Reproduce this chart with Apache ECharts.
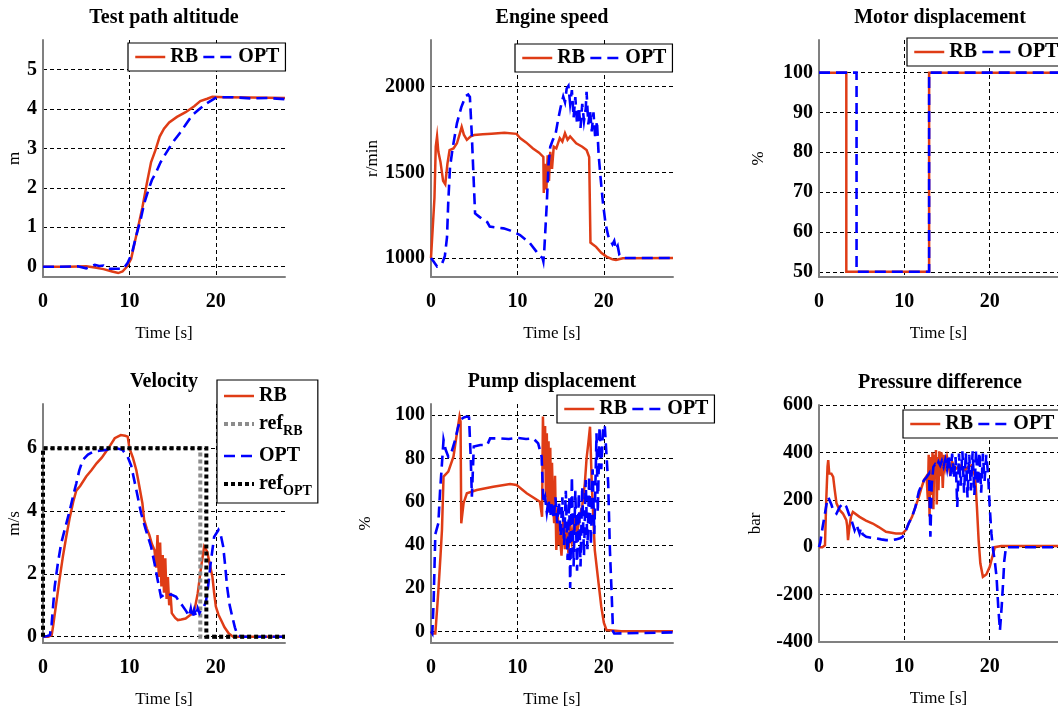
<!DOCTYPE html>
<html>
<head>
<meta charset="utf-8">
<script src="https://cdn.jsdelivr.net/npm/echarts@6/dist/echarts.min.js"></script>
<style>
  html, body { margin: 0; padding: 0; background: #fff; }
  #chart { width: 1058px; height: 711px; }
</style>
</head>
<body>
<div id="chart"></div>
<script>
// ---- tick values ----
const timeTicks = [0, 10, 20];
const altitudeTicks = [0, 1, 2, 3, 4, 5];
const engineTicks = [1000, 1500, 2000];
const motorTicks = [50, 60, 70, 80, 90, 100];
const velocityTicks = [0, 2, 4, 6];
const pumpTicks = [0, 20, 40, 60, 80, 100];
const pressureTicks = [-400, -200, 0, 200, 400, 600];

// ---- measured traces: [time s, value] ----
const altitudeRB = [[0,0],[3,0],[5,0.01],[6,-0.02],[7,-0.06],[8,-0.12],[8.7,-0.16],[9.2,-0.12],[9.7,0],[10.2,0.2],[10.6,0.6],[11,1.0],[11.5,1.5],[12,2.1],[12.5,2.65],[13,2.95],[13.5,3.3],[14,3.5],[14.6,3.66],[15.5,3.8],[16.5,3.92],[17.5,4.07],[18.2,4.2],[19,4.26],[19.6,4.31],[21,4.3],[24,4.29],[28,4.28]];
const altitudeOPT = [[0,0],[2,0],[4,0.01],[5,-0.04],[5.5,0],[6,0.05],[6.5,0.02],[7,0.03],[7.5,-0.05],[8.5,-0.05],[9.3,-0.05],[9.8,0.1],[10.3,0.35],[10.8,0.8],[11.3,1.2],[11.7,1.6],[12.2,1.95],[12.6,2.2],[13.1,2.4],[13.6,2.65],[14.2,2.87],[15,3.15],[15.8,3.38],[16.5,3.6],[17.3,3.85],[18.1,4.0],[18.9,4.14],[19.5,4.22],[20.1,4.3],[22,4.3],[24,4.27],[26,4.28],[28,4.25]];

const engineRB = [[0,1000],[0.2,1000],[0.4,1350],[0.55,1650],[0.7,1710],[0.85,1620],[1.1,1560],[1.4,1450],[1.65,1430],[1.9,1550],[2.15,1630],[2.6,1640],[3,1670],[3.3,1720],[3.55,1765],[3.8,1720],[4.15,1690],[4.6,1710],[5,1718],[6,1722],[7,1725],[8.5,1731],[9.9,1725],[10.3,1700],[11,1675],[11.8,1640],[12.5,1615],[13,1590],[13.05,1380],[13.2,1550],[13.35,1400],[13.5,1600],[13.65,1450],[13.8,1620],[14,1520],[14.2,1650],[14.5,1640],[14.9,1700],[15.2,1680],[15.5,1728],[15.8,1690],[16.1,1710],[16.8,1670],[17.5,1650],[18,1630],[18.3,1590],[18.45,1090],[18.7,1080],[19.1,1065],[19.7,1030],[20.3,1008],[21,992],[21.4,988],[22.2,998],[28,1000]];
const engineOPT = [[0,1000],[0.3,980],[0.7,950],[1.0,955],[1.3,970],[1.6,1010],[1.85,1120],[2.0,1330],[2.2,1530],[2.5,1640],[3.0,1786],[3.5,1880],[4.0,1945],[4.3,1955],[4.5,1940],[4.73,1710],[4.9,1500],[5.1,1260],[5.6,1240],[6.0,1225],[6.5,1210],[6.8,1183],[7.5,1178],[8.4,1173],[9.2,1160],[9.9,1144],[10.3,1134],[11.0,1105],[11.45,1086],[12.2,1037],[12.6,1010],[12.9,1000],[13.0,980],[13.1,1040],[13.4,1320],[13.6,1550],[13.8,1650],[14.1,1690],[14.4,1720],[14.7,1806],[15.0,1880],[15.3,1942],[15.5,1910],[15.7,1990],[15.9,2005],[16.1,1900],[16.3,1980],[16.5,1820],[16.7,1940],[16.9,1780],[17.1,1880],[17.3,1760],[17.5,1900],[17.7,1800],[17.9,1870],[18.0,1970],[18.2,1780],[18.4,1860],[18.6,1740],[18.8,1850],[19.0,1700],[19.2,1800],[19.4,1600],[19.6,1480],[19.9,1319],[20.2,1200],[20.5,1130],[20.7,1124],[21.0,1080],[21.2,1100],[21.4,1050],[21.6,1070],[21.8,1017],[22.3,1000],[28,1000]];

const motorRB = [[0,100],[3.2,100],[3.2,50],[12.9,50],[12.9,100],[28,100]];
const motorOPT = [[0,100],[4.4,100],[4.4,50],[12.9,50],[12.9,100],[28,100]];

const velocityRB = [[0,0],[0.6,0],[1.0,0.05],[1.15,0.3],[1.5,1.0],[1.9,1.8],[2.3,2.55],[2.7,3.2],[3.1,3.8],[3.5,4.3],[3.85,4.65],[4.3,4.8],[5.0,5.1],[5.6,5.3],[6.2,5.52],[6.8,5.7],[7.3,5.9],[7.8,6.1],[8.3,6.32],[9.0,6.42],[9.5,6.4],[9.8,6.37],[10.0,6.0],[10.4,5.7],[10.8,5.3],[11.15,4.78],[11.5,4.25],[11.7,3.72],[12.0,3.45],[12.3,3.24],[12.6,2.95],[12.9,2.76],[13.1,2.2],[13.25,3.24],[13.4,1.9],[13.55,3.0],[13.7,1.6],[13.85,2.6],[14.0,1.4],[14.15,2.5],[14.3,1.2],[14.45,1.9],[14.6,1.0],[14.75,1.4],[14.9,0.75],[15.0,0.8],[15.3,0.6],[15.6,0.53],[16.0,0.55],[16.5,0.58],[17.0,0.68],[17.3,0.74],[17.6,0.95],[17.9,1.38],[18.1,1.8],[18.3,2.23],[18.5,2.6],[18.65,2.87],[19.0,2.71],[19.3,2.3],[19.6,1.91],[19.8,1.4],[20.0,0.96],[20.3,0.7],[20.6,0.53],[21.0,0.3],[21.5,0.1],[22,0],[28,0]];
const velocityOPT = [[0,0],[0.5,0.02],[0.8,0.05],[1.0,0.4],[1.35,1.59],[1.7,2.3],[2.1,2.97],[2.6,3.5],[3.1,4.03],[3.5,4.5],[3.85,4.88],[4.2,5.3],[4.6,5.63],[5.2,5.8],[5.8,5.89],[6.5,5.92],[7.3,5.95],[8.0,6.0],[8.5,6.0],[9.2,5.95],[9.8,5.73],[10.2,5.45],[10.8,4.67],[11.35,3.93],[11.9,3.4],[12.5,2.87],[12.9,2.34],[13.27,1.8],[13.65,1.27],[14.0,1.33],[14.4,1.3],[14.8,1.35],[15.4,1.27],[15.8,1.1],[16.1,1.0],[16.6,0.8],[16.9,0.65],[17.1,0.9],[17.3,0.6],[17.5,0.85],[17.7,0.65],[17.9,0.9],[18.1,0.75],[18.3,0.85],[18.6,0.95],[18.85,1.11],[19.1,1.6],[19.4,2.34],[19.8,3.18],[20.3,3.4],[20.6,3.2],[20.85,2.87],[21.1,2.2],[21.3,1.59],[21.6,1.0],[21.9,0.64],[22.2,0.3],[22.5,0.05],[23,0],[28,0]];
const velocityRefRB = [[0,0],[0,6],[18.2,6],[18.2,0],[28,0]];
const velocityRefOPT = [[0,0],[0,6],[18.9,6],[18.9,0],[28,0]];

const pumpRB = [[0,0],[0.1,-1],[0.5,-1],[0.7,10],[0.88,20.6],[1.1,35],[1.27,47],[1.45,71.6],[2.0,73.9],[2.6,80.8],[3.0,91.7],[3.3,99.4],[3.42,97],[3.5,50],[3.77,59.3],[4.15,63.9],[5.3,65.4],[7.2,66.9],[9.15,68.2],[9.9,67.7],[11.07,63.9],[12.6,60],[12.85,53],[12.95,99.4],[13.1,75],[13.2,95],[13.3,62],[13.4,91.7],[13.5,58],[13.6,88],[13.7,55],[13.8,85],[13.9,56],[14.0,78],[14.1,60.8],[14.25,50],[14.35,72],[14.5,37.6],[14.65,56],[14.8,40],[14.9,45],[15.1,35],[15.3,52],[15.5,38],[15.7,48],[15.9,36],[16.1,50],[16.3,42],[16.6,52],[16.9,45],[17.2,53],[17.5,58],[17.8,68.5],[18.0,80],[18.2,87],[18.4,94.7],[18.6,68.5],[18.95,37.6],[19.3,25.3],[19.7,11.4],[20.0,4],[20.3,0.6],[22,0],[28,0]];
const pumpOPT = [[0,0],[0.15,-1],[0.3,13],[0.5,45],[0.85,50],[1.05,65],[1.27,77.8],[1.45,88.6],[1.7,84],[2.0,80.8],[2.3,82],[2.8,88.6],[3.1,94],[3.38,97.8],[3.8,99],[4.15,99.4],[4.4,99],[4.6,80],[4.73,62.3],[4.85,75],[4.95,85.5],[5.7,86.2],[6.5,86.2],[6.84,89.3],[8.0,89.3],[9,89],[10,89.5],[11,89],[11.83,89.3],[12.4,87],[12.8,80.8],[13.0,59.3],[13.2,62],[13.4,55],[13.6,61],[13.8,53],[14.0,60],[14.2,52],[14.4,62],[14.6,50],[14.8,60],[15.0,44],[15.2,62],[15.4,40],[15.6,65],[15.8,33],[16.0,62],[16.1,20],[16.3,71.6],[16.5,30],[16.7,65],[16.9,28],[17.1,64],[17.3,30],[17.5,67],[17.7,35],[17.9,70],[18.1,38],[18.3,72],[18.5,40],[18.7,75],[18.9,45],[19.15,91.7],[19.3,55],[19.5,94.7],[19.7,75],[19.9,93],[20.1,95.5],[20.3,95.5],[20.5,68.5],[20.7,37.6],[20.9,17.6],[21.06,0],[21.2,-1],[28,-0.5]];

const pressureRB = [[0,0],[0.4,0],[0.7,8],[0.85,200],[1.0,340],[1.08,367],[1.2,311],[1.45,310],[1.66,297],[1.85,240],[2.05,185],[2.43,156],[2.8,142],[3.2,114],[3.3,90],[3.4,30],[3.55,80],[3.75,130],[3.97,149],[4.75,128],[5.5,112],[6.3,100],[7.0,85],[7.85,65],[9.0,58],[9.8,58],[10.17,72],[10.5,100],[10.9,128],[11.3,170],[11.7,212],[12.0,250],[12.3,283],[12.6,300],[12.75,200],[12.85,390],[12.95,130],[13.05,380],[13.15,220],[13.3,400],[13.4,160],[13.5,390],[13.6,300],[13.7,410],[13.8,180],[13.9,380],[14.0,240],[14.1,405],[14.2,300],[14.35,400],[14.5,250],[14.65,390],[14.8,339],[15.0,380],[15.3,320],[15.6,360],[16.0,330],[16.5,345],[17.1,325],[17.5,340],[17.9,346],[18.1,320],[18.3,297],[18.5,170],[18.7,30],[18.9,-68],[19.2,-125],[19.6,-115],[20.0,-83],[20.4,-27],[20.6,0],[21.35,5],[28,5]];
const pressureOPT = [[0,0],[0.15,20],[0.43,86],[0.7,142],[0.96,199],[1.1,210],[1.27,206],[1.45,180],[1.66,156],[2.05,142],[2.43,170],[2.82,185],[3.2,171],[3.5,140],[3.8,114],[4.17,72],[4.4,95],[4.56,93],[4.75,58],[4.9,80],[5.1,55],[5.53,44],[6.1,40],[6.7,37],[7.3,33],[7.85,30],[8.5,30],[9.0,33],[9.5,38],[9.8,44],[10.2,72],[10.5,100],[10.9,128],[11.3,170],[11.7,235],[12.0,260],[12.3,283],[12.6,295],[12.9,311],[13.05,44],[13.2,260],[13.4,339],[13.6,350],[13.8,340],[14.0,360],[14.2,345],[14.4,365],[14.6,340],[14.8,370],[15.0,330],[15.2,390],[15.4,300],[15.6,395],[15.8,290],[16.0,380],[16.2,170],[16.4,395],[16.6,260],[16.8,405],[17.0,230],[17.2,400],[17.4,210],[17.6,390],[17.8,240],[18.0,405],[18.2,220],[18.4,410],[18.6,260],[18.8,400],[19.0,230],[19.2,395],[19.4,280],[19.6,390],[19.8,311],[20.0,170],[20.2,58],[20.4,-13],[20.6,-60],[20.8,-125],[21.0,-252],[21.2,-351],[21.4,-252],[21.6,-130],[21.7,-60],[21.9,0],[28,0]];

// ---- styling ----
const FONT = '"Liberation Serif", "Times New Roman", Times, serif';
const RED = '#df3c16';
const BLUE = '#0000ff';
const lineStyles = {
  RB:      { color: RED,  width: 2.5, type: 'solid' },
  OPT:     { color: BLUE, width: 2.6, type: [11, 6] },
  ref_RB:  { color: '#8c8c8c', width: 4, type: [4, 3] },
  ref_OPT: { color: '#000000', width: 4, type: [4, 3] }
};

const panels = [
  { title: 'Test path altitude', unit: 'm', nameGap: 13,
    grid: { left: 43, top: 40, width: 242, height: 237 },
    yMin: -0.26, yMax: 5.75, yTicks: altitudeTicks,
    series: [['RB', altitudeRB], ['OPT', altitudeOPT]],
    legend: { left: 128, top: 43 } },
  { title: 'Engine speed', unit: 'r/min', nameGap: 45,
    grid: { left: 431, top: 40, width: 242, height: 237 },
    yMin: 889, yMax: 2273, yTicks: engineTicks,
    series: [['RB', engineRB], ['OPT', engineOPT]],
    legend: { left: 515, top: 44 } },
  { title: 'Motor displacement', unit: '%', nameGap: 52,
    grid: { left: 819, top: 40, width: 242, height: 237 },
    yMin: 48.7, yMax: 108.2, yTicks: motorTicks,
    series: [['RB', motorRB], ['OPT', motorOPT]],
    legend: { left: 907, top: 38 } },
  { title: 'Velocity', unit: 'm/s', nameGap: 13,
    grid: { left: 43, top: 404, width: 242, height: 239 },
    yMin: -0.2, yMax: 7.41, yTicks: velocityTicks,
    series: [['RB', velocityRB], ['ref_RB', velocityRefRB], ['OPT', velocityOPT], ['ref_OPT', velocityRefOPT]],
    legend: { left: 217, top: 380, orient: 'vertical' } },
  { title: 'Pump displacement', unit: '%', nameGap: 57,
    grid: { left: 431, top: 404, width: 242, height: 239 },
    yMin: -5.4, yMax: 105.2, yTicks: pumpTicks,
    series: [['RB', pumpRB], ['OPT', pumpOPT]],
    legend: { left: 557, top: 395 } },
  { title: 'Pressure difference', unit: 'bar', nameGap: 55,
    grid: { left: 819, top: 405, width: 242, height: 237 },
    yMin: -400, yMax: 600, yTicks: pressureTicks,
    series: [['RB', pressureRB], ['OPT', pressureOPT]],
    legend: { left: 903, top: 410 } }
];

const tickLabel = { fontFamily: FONT, fontSize: 20, fontWeight: 'bold', color: '#000' };
const gridLine = { show: true, lineStyle: { color: '#000', width: 1, type: [4, 3] } };
const axisLine = { show: true, onZero: false, lineStyle: { color: '#808080', width: 2 } };
const plainNumber = v => String(v);

const option = {
  animation: false,
  backgroundColor: '#fff',
  grid: [], xAxis: [], yAxis: [], series: [], legend: [], graphic: []
};

panels.forEach((p, i) => {
  option.grid.push(Object.assign({ containLabel: false }, p.grid));
  option.xAxis.push({
    type: 'value', gridIndex: i, min: 0, max: 28,
    axisLine: axisLine,
    axisTick: { show: false, customValues: timeTicks },
    axisLabel: Object.assign({ customValues: timeTicks, margin: 15, formatter: plainNumber }, tickLabel),
    splitLine: gridLine,
    name: 'Time [s]', nameLocation: 'middle', nameGap: 48,
    nameTextStyle: { fontFamily: FONT, fontSize: 17, color: '#000' }
  });
  option.yAxis.push({
    type: 'value', gridIndex: i, min: p.yMin, max: p.yMax,
    axisLine: axisLine,
    axisTick: { show: false, customValues: p.yTicks },
    axisLabel: Object.assign({ customValues: p.yTicks, margin: 6, formatter: plainNumber }, tickLabel),
    splitLine: gridLine,
    name: p.unit, nameLocation: 'middle', nameGap: p.nameGap,
    nameTextStyle: { fontFamily: FONT, fontSize: 17, color: '#000' }
  });
  p.series.forEach(([name, data]) => {
    option.series.push({
      type: 'line', name: name, xAxisIndex: i, yAxisIndex: i,
      data: data, symbol: 'none', showSymbol: false,
      lineStyle: Object.assign({ cap: 'butt', join: 'miter' }, lineStyles[name]),
      itemStyle: { color: lineStyles[name].color },
      silent: true, clip: true
    });
  });
  const vertical = p.legend.orient === 'vertical';
  option.legend.push({
    left: p.legend.left, top: p.legend.top,
    width: vertical ? 120 : 220,
    orient: vertical ? 'vertical' : 'horizontal',
    selectedMode: false,
    backgroundColor: '#fff', borderColor: '#000', borderWidth: 1.2, borderRadius: 0,
    padding: vertical ? [6, 6, 5, 5] : [4, 6, 4, 6],
    itemWidth: 30, itemHeight: 14, itemGap: vertical ? 8 : 4,
    data: p.series.map(([name]) => ({
      name: name,
      lineStyle: lineStyles[name],
      itemStyle: { opacity: 0 }
    })),
    formatter: name => name.indexOf('ref_') === 0 ? '{m|ref}{s|' + name.slice(4) + '}' : name,
    textStyle: Object.assign({}, tickLabel, {
      rich: {
        m: { fontFamily: FONT, fontSize: 20, fontWeight: 'bold', color: '#000' },
        s: { fontFamily: FONT, fontSize: 14, fontWeight: 'bold', color: '#000', padding: [14, 0, 0, 0], verticalAlign: 'bottom' }
      }
    })
  });
  option.graphic.push({
    type: 'text',
    x: p.grid.left + 121, y: p.grid.top - 22,
    style: { text: p.title, fontFamily: FONT, fontSize: 20, fontWeight: 'bold', fill: '#000', align: 'center', verticalAlign: 'middle' },
    z: 10
  });
});

const chart = echarts.init(document.getElementById('chart'), null, { renderer: 'canvas' });
chart.setOption(option);
</script>
</body>
</html>
